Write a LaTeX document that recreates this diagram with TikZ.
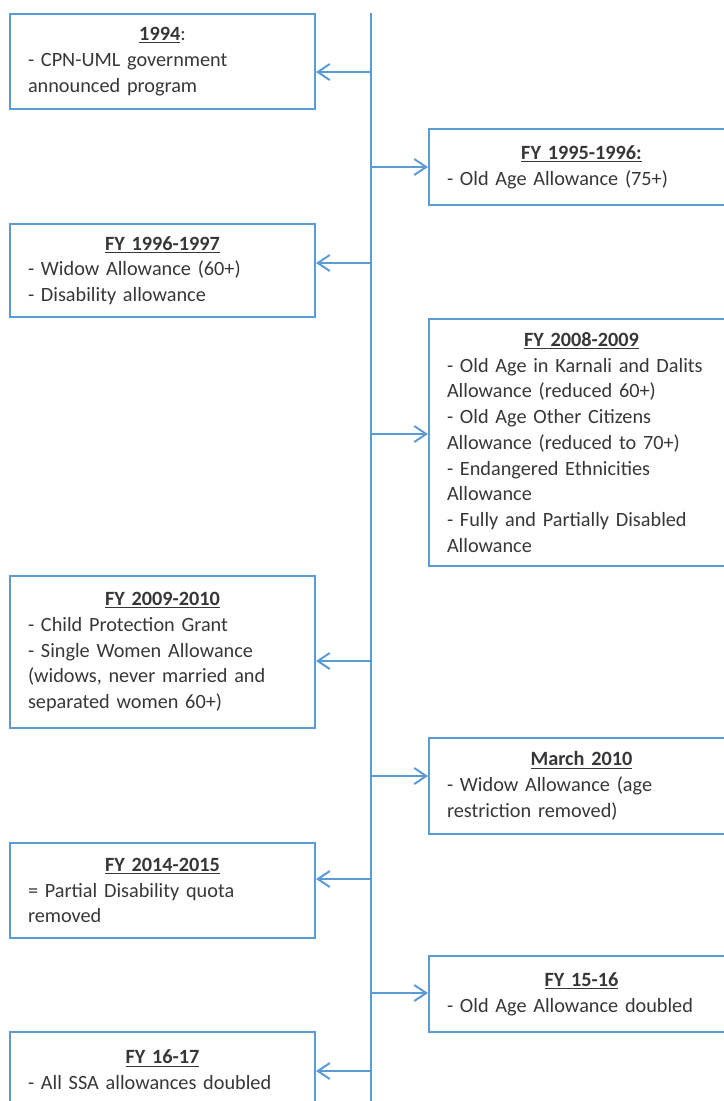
\documentclass[tikz,border=0pt]{standalone}
\usepackage{fontspec}
\setmainfont{Carlito}
\usetikzlibrary{arrows.meta}
\definecolor{tlblue}{RGB}{91,155,213}
\definecolor{tltext}{RGB}{55,55,55}
\newcommand{\hd}[1]{\makebox[\linewidth][c]{#1}}
\newcommand{\yr}[1]{\underline{\textbf{#1}}}
\tikzset{
	evbox/.style={draw=tlblue, line width=1.5pt, anchor=north west, text width=201.75pt, inner xsep=13.5pt, inner ysep=0pt, align=left, text=tltext, font=\fontsize{15.2}{19.3}\selectfont},
	spine/.style={draw=tlblue, line width=1.5pt},
	tick/.style={draw=tlblue, line width=1.5pt, -{Straight Barb[length=9pt,width=12pt]}}
}
\begin{document}
\begin{tikzpicture}[x=0.75pt,y=0.75pt,yscale=-1,xscale=1]
	\useasboundingbox (0,0) rectangle (724,1101);
	\clip (0,0) rectangle (724,1101);
	\coordinate (top) at (371,13);
	\coordinate (bot) at (371,1110);
	\draw [spine] (top) -- (bot);
	\node (y1994) [evbox, minimum height=71.25pt] at (9,13) {\hd{\yr{1994}:}\\- CPN-UML government\\announced program};
	\node (fy9596) [evbox, minimum height=57pt] at (428,128) {\hd{\yr{FY 1995-1996:}}\\- Old Age Allowance (75+)};
	\node (fy9697) [evbox, minimum height=69.75pt] at (9,223) {\hd{\yr{FY 1996-1997}}\\- Widow Allowance (60+)\\- Disability allowance};
	\node (fy0809) [evbox, minimum height=185.25pt] at (428,318) {\hd{\yr{FY 2008-2009}}\\- Old Age in Karnali and Dalits\\Allowance (reduced 60+)\\- Old Age Other Citizens\\Allowance (reduced to 70+)\\- Endangered Ethnicities\\Allowance\\- Fully and Partially Disabled\\Allowance};
	\node (fy0910) [evbox, minimum height=114pt] at (9,575) {\hd{\yr{FY 2009-2010}}\\- Child Protection Grant\\- Single Women Allowance\\(widows, never married and\\separated women 60+)};
	\node (mar10) [evbox, minimum height=72pt] at (428,737) {\hd{\yr{March 2010}}\\- Widow Allowance (age\\restriction removed)};
	\node (fy1415) [evbox, minimum height=71.25pt] at (9,842) {\hd{\yr{FY 2014-2015}}\\= Partial Disability quota\\removed};
	\node (fy1516) [evbox, minimum height=57pt] at (428,955) {\hd{\yr{FY 15-16}}\\- Old Age Allowance doubled};
	\node (fy1617) [evbox, minimum height=57pt] at (9,1031) {\hd{\yr{FY 16-17}}\\- All SSA allowances doubled};
	\coordinate (a1) at (371,72);
	\coordinate (a2) at (371,167);
	\coordinate (a3) at (371,263);
	\coordinate (a4) at (371,434);
	\coordinate (a5) at (371,661);
	\coordinate (a6) at (371,776);
	\coordinate (a7) at (371,879);
	\coordinate (a8) at (371,993);
	\coordinate (a9) at (371,1071);
	\draw [tick] (a1) -- (a1 -| y1994.east);
	\draw [tick] (a2) -- (a2 -| fy9596.west);
	\draw [tick] (a3) -- (a3 -| fy9697.east);
	\draw [tick] (a4) -- (a4 -| fy0809.west);
	\draw [tick] (a5) -- (a5 -| fy0910.east);
	\draw [tick] (a6) -- (a6 -| mar10.west);
	\draw [tick] (a7) -- (a7 -| fy1415.east);
	\draw [tick] (a8) -- (a8 -| fy1516.west);
	\draw [tick] (a9) -- (a9 -| fy1617.east);
\end{tikzpicture}
\end{document}
